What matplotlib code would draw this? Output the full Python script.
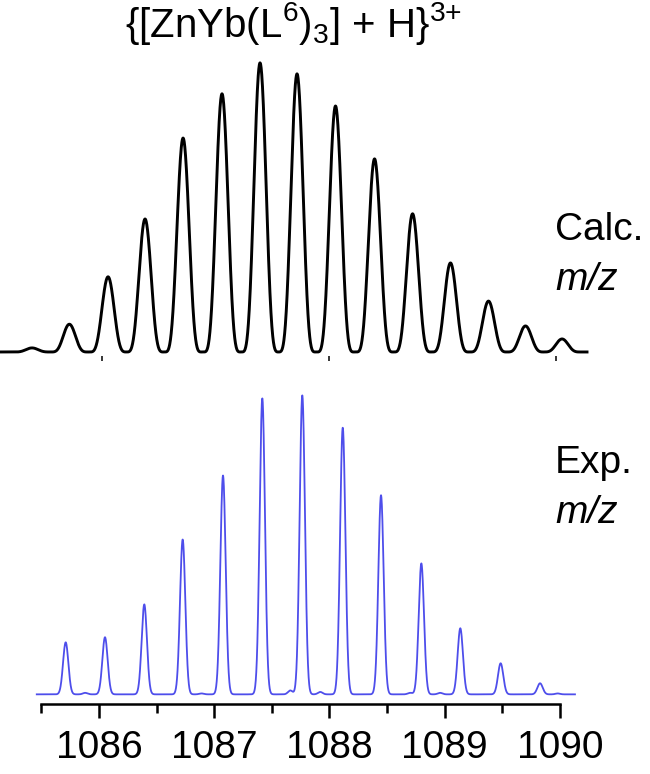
import numpy as np
import matplotlib
matplotlib.use("Agg")
import matplotlib.pyplot as plt

## dados ##
# espectro calculado (picos: m/z, intensidade relativa)
calc_mz = [1085.383, 1085.712, 1086.053, 1086.379, 1086.714, 1087.057, 1087.392,
           1087.718, 1088.057, 1088.401, 1088.736, 1089.070, 1089.405, 1089.731, 1090.053]
calc_int = [1.4, 9.6, 26.0, 46.0, 74.0, 89.3, 100.0, 96.2, 85.1, 66.8, 47.8, 30.8, 17.6, 9.0, 4.5]

# espectro experimental
exp_mz = [1085.711, 1086.052, 1086.393, 1086.726, 1087.076, 1087.417, 1087.764,
          1088.115, 1088.447, 1088.797, 1089.135, 1089.485, 1089.827]
exp_int = [17.4, 19.1, 30.1, 51.8, 73.2, 99.0, 100.0, 89.2, 66.6, 43.8, 22.1, 10.4, 3.7]
# pequenos picos entre os principais
exp_small_mz = [1085.88, 1086.89, 1087.66, 1087.92, 1088.70, 1088.96, 1089.98]
exp_small_int = [0.5, 0.3, 1.3, 0.8, 0.5, 0.5, 0.3]

ticks_maior = [1086, 1087, 1088, 1089, 1090]
ticks_menor = [1085.5, 1086.5, 1087.5, 1088.5, 1089.5]
ticks_calc = [1086, 1088, 1090]

titulo = r'$\{[\mathrm{ZnYb(L}^{6}\mathrm{)}_{3}]$ + H$\}^{3{+}}$'

plt.rcParams['font.family'] = ['Liberation Sans', 'DejaVu Sans']
plt.rcParams['mathtext.fontset'] = 'custom'
plt.rcParams['mathtext.rm'] = 'Liberation Sans'
plt.rcParams['mathtext.it'] = 'Liberation Sans:italic'


## perfis de linha ##
def perfil_gauss(x, centros, alturas, sigma):
    y = np.zeros_like(x)
    for c, h in zip(centros, alturas):
        y += h * np.exp(-0.5 * ((x - c) / sigma) ** 2)
    return y


def perfil_cos(x, centros, alturas, w, q):
    # pico cos^q, vai a zero em |x-c| = w
    y = np.zeros_like(x)
    for c, h in zip(centros, alturas):
        d = np.clip(np.abs(x - c) / w, 0, 1)
        y += h * np.cos(np.pi / 2 * d) ** q
    return y


fig = plt.figure(figsize=(6.5, 7.74), dpi=100)

# painel de cima: calculado
ax1 = fig.add_axes([0, 0.5401, 1, 0.3876])
x1 = np.linspace(1085.101, 1090.273, 4000)
ax1.plot(x1, perfil_cos(x1, calc_mz, calc_int, 0.165, 4), color='black', lw=2.1,
         solid_joinstyle='round')
ax1.set_xlim(1085.101, 1090.828)
ax1.set_ylim(-1.38, 102.4)
for s in ax1.spines.values():
    s.set_visible(False)
ax1.set_xticks(ticks_calc)
ax1.set_xticklabels([])
ax1.set_yticks([])
ax1.tick_params(axis='x', direction='out', length=3.6, width=1.1, color='black')

# painel de baixo: experimental
ax2 = fig.add_axes([0, 0.0904, 1, 0.4057])
x2 = np.linspace(1085.46, 1090.13, 4000)
y2 = perfil_gauss(x2, exp_mz, exp_int, 0.023) + perfil_gauss(x2, exp_small_mz, exp_small_int, 0.02)
ax2.plot(x2, y2, color='#2222e6', lw=1.3, alpha=0.8)
ax2.set_xlim(1085.141, 1090.781)
ax2.set_ylim(-3.24, 101.8)
for lado in ['left', 'right', 'top']:
    ax2.spines[lado].set_visible(False)
ax2.spines['bottom'].set_bounds(1085.5, 1090)
ax2.spines['bottom'].set_linewidth(1.8)
ax2.set_yticks([])
ax2.set_xticks(ticks_maior)
ax2.set_xticklabels([str(t) for t in ticks_maior])
ax2.set_xticks(ticks_menor, minor=True)
ax2.tick_params(axis='x', which='major', direction='out', length=10, width=1.8,
                labelsize=28, pad=9)
ax2.tick_params(axis='x', which='minor', direction='out', length=6.5, width=1.8)

## textos ##
fig.text(0.452, 0.9526, titulo, fontsize=29, ha='center', va='baseline')
fig.text(0.854, 0.690, 'Calc.', fontsize=28, ha='left', va='baseline')
fig.text(0.854, 0.625, 'm/z', fontsize=28, style='italic', ha='left', va='baseline')
fig.text(0.854, 0.389, 'Exp.', fontsize=28, ha='left', va='baseline')
fig.text(0.854, 0.324, 'm/z', fontsize=28, style='italic', ha='left', va='baseline')

fig.savefig('out.png', dpi=100)
